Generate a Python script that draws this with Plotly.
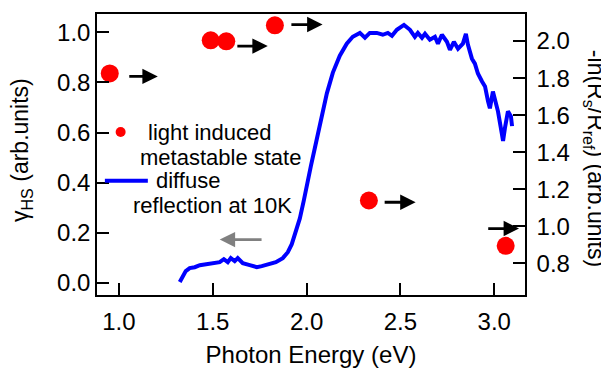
import plotly.graph_objects as go

# Diffuse reflection spectrum at 10K (right axis)
energy = [1.324, 1.340, 1.356, 1.377, 1.404, 1.431, 1.468, 1.505, 1.537, 1.559,
          1.580, 1.596, 1.617, 1.633, 1.660, 1.697, 1.735, 1.761, 1.793, 1.836,
          1.873, 1.900, 1.921, 1.943, 1.964, 1.985, 2.001, 2.023, 2.044, 2.065,
          2.087, 2.108, 2.140, 2.177, 2.214, 2.246, 2.284, 2.311, 2.337, 2.374,
          2.406, 2.433, 2.455, 2.481, 2.519, 2.551, 2.577, 2.593, 2.615, 2.631,
          2.657, 2.684, 2.700, 2.721, 2.748, 2.764, 2.785, 2.807, 2.833, 2.849,
          2.860, 2.881, 2.897, 2.913, 2.935, 2.951, 2.967, 2.977, 2.993, 3.004,
          3.020, 3.041, 3.047, 3.057, 3.073, 3.089, 3.095]
absorbance = [0.700, 0.732, 0.759, 0.775, 0.780, 0.791, 0.797, 0.807, 0.807, 0.823,
              0.807, 0.829, 0.813, 0.829, 0.802, 0.791, 0.780, 0.786, 0.797, 0.807,
              0.829, 0.861, 0.904, 0.968, 1.043, 1.139, 1.230, 1.327, 1.423, 1.525,
              1.621, 1.718, 1.830, 1.921, 1.986, 2.023, 2.044, 2.018, 2.044, 2.044,
              2.034, 2.044, 2.028, 2.061, 2.087, 2.061, 2.023, 2.044, 2.018, 2.039,
              2.007, 2.023, 1.986, 2.034, 1.996, 1.953, 1.996, 1.959, 1.986, 2.039,
              1.980, 1.905, 1.878, 1.825, 1.782, 1.755, 1.675, 1.637, 1.728, 1.691,
              1.621, 1.498, 1.461, 1.530, 1.621, 1.594, 1.541]

# Light induced metastable state (left axis)
dot_energy = [0.951, 1.489, 1.572, 1.831, 2.332, 3.061]
dot_gamma = [0.836, 0.968, 0.964, 1.028, 0.329, 0.148]

# Arrows (annotation coordinates, left axis)
arrow_tail_x = [1.047, 1.623, 1.911, 2.408, 2.960]
arrow_head_x = [1.207, 1.793, 2.085, 2.581, 3.132]
arrow_y = [0.824, 0.945, 1.031, 0.322, 0.217]
gray_arrow = dict(tail=1.768, head=1.537, y=0.173)

x_ticks = [1.0, 1.5, 2.0, 2.5, 3.0]
left_ticks = [0.0, 0.2, 0.4, 0.6, 0.8, 1.0]
right_ticks = [0.8, 1.0, 1.2, 1.4, 1.6, 1.8, 2.0]

FONT = "Liberation Sans, Arial, sans-serif"
FS = 23
TFS = 24
LFS = 22

fig = go.Figure()
fig.add_trace(go.Scatter(x=energy, y=absorbance, mode="lines", yaxis="y2",
                         line=dict(color="#0000FF", width=4), showlegend=False))
fig.add_trace(go.Scatter(x=dot_energy, y=dot_gamma, mode="markers",
                         marker=dict(color="#FF0000", size=18, line=dict(width=0)),
                         showlegend=False))

annotations = []
for tx, hx, yy in zip(arrow_tail_x, arrow_head_x, arrow_y):
    annotations.append(dict(x=hx, y=yy, ax=tx, ay=yy, xref="x", yref="y", axref="x", ayref="y",
                            text="", showarrow=True, arrowhead=2, arrowsize=1.1,
                            arrowwidth=2.8, arrowcolor="black"))
annotations.append(dict(x=gray_arrow["head"], y=gray_arrow["y"], ax=gray_arrow["tail"], ay=gray_arrow["y"],
                        xref="x", yref="y", axref="x", ayref="y", text="", showarrow=True,
                        arrowhead=2, arrowsize=1.1, arrowwidth=2.8, arrowcolor="#808080"))

# Legend texts
legend_texts = [("light induced", 1.154, 0.602), ("metastable state", 1.111, 0.500),
                ("diffuse", 1.200, 0.408), ("reflection at 10K", 1.075, 0.309)]
for t, xx, yy in legend_texts:
    annotations.append(dict(x=xx, y=yy, xref="x", yref="y", text=t, showarrow=False,
                            xanchor="left", yanchor="middle", xshift=-2,
                            font=dict(size=LFS, family=FONT, color="black")))

# Axis titles
annotations.append(dict(x=0, y=0.516, xref="paper", yref="paper", xshift=-76,
                        text="γ<sub>HS</sub> (arb.units)", textangle=-90, showarrow=False,
                        xanchor="center", yanchor="middle", font=dict(size=FS, family=FONT, color="black")))
annotations.append(dict(x=1, y=0.488, xref="paper", yref="paper", xshift=69,
                        text="-ln(R<sub>s</sub>/R<sub>ref</sub>) (arb.units)", textangle=90, showarrow=False,
                        xanchor="center", yanchor="middle", font=dict(size=FS, family=FONT, color="black")))

shapes = [
    dict(type="circle", xref="x", yref="y", xsizemode="pixel", ysizemode="pixel",
         xanchor=1.009, yanchor=0.602, x0=-5, x1=5, y0=-5, y1=5,
         fillcolor="#FF0000", line=dict(width=0)),
    dict(type="line", xref="x", yref="y", x0=0.925, x1=1.154, y0=0.408, y1=0.408,
         line=dict(color="#0000FF", width=4)),
]

axis_common = dict(showgrid=False, zeroline=False, showline=True, linecolor="black", linewidth=1.5,
                   ticks="inside", ticklen=12, tickwidth=1.5, tickcolor="black",
                   tickfont=dict(size=TFS, family=FONT, color="black"))

# The page body adds an 8px margin, so the figure is 8px smaller than the window
fig.update_layout(
    width=601, height=361,
    margin=dict(l=89, r=84, t=4, b=74),
    paper_bgcolor="white", plot_bgcolor="white",
    font=dict(family=FONT, size=FS, color="black"),
    xaxis=dict(range=[0.883, 3.164], tickvals=x_ticks, tickformat=".1f", mirror=True,
               ticklabelstandoff=4,
               title=dict(text="Photon Energy (eV)", font=dict(size=24, family=FONT), standoff=13),
               **axis_common),
    yaxis=dict(range=[-0.048, 1.073], tickvals=left_ticks, tickformat=".1f",
               ticklabelstandoff=0, **axis_common),
    yaxis2=dict(range=[0.630, 2.146], tickvals=right_ticks, tickformat=".1f", overlaying="y",
                side="right", ticklabelstandoff=5, **axis_common),
    annotations=annotations, shapes=shapes, showlegend=False,
)

fig.write_html("out.html")
